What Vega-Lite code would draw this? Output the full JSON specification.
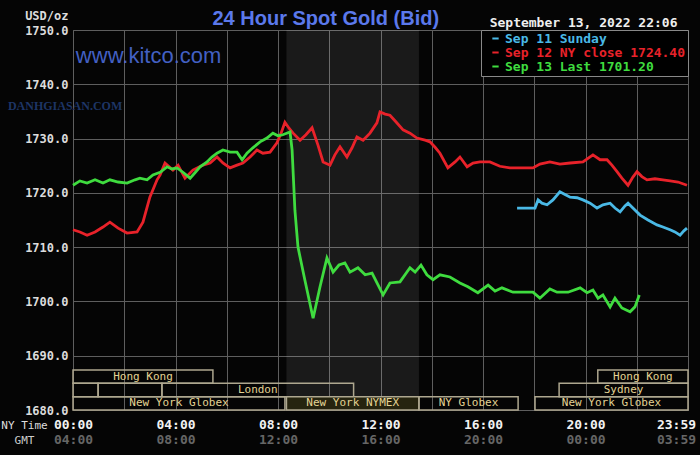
{
  "$schema": "https://vega.github.io/schema/vega-lite/v6.json",
  "width": 615,
  "height": 380,
  "autosize": {"type": "none"},
  "padding": {"left": 73, "top": 30, "right": 12, "bottom": 45},
  "background": "#050505",
  "config": {
    "view": {"stroke": "#5a5a5a"},
    "axis": {"ticks": false, "domain": false, "gridColor": "#5e5e5e", "gridWidth": 1, "gridOpacity": 1, "labelFlush": false}
  },
  "datasets": {
    "sessions": [
      {"lane": "A", "session": "Hong Kong", "start": 0, "end": 5.46},
      {"lane": "A", "session": "Hong Kong", "start": 20.48, "end": 24},
      {"lane": "B", "session": "", "start": 0, "end": 0.98},
      {"lane": "B", "session": "", "start": 0.98, "end": 3.47},
      {"lane": "B", "session": "London", "start": 3.47, "end": 10.95},
      {"lane": "B", "session": "Sydney", "start": 18.97, "end": 24},
      {"lane": "C", "session": "New York Globex", "start": 0, "end": 8.27},
      {"lane": "C", "session": "New York NYMEX", "start": 8.33, "end": 13.5},
      {"lane": "C", "session": "NY Globex", "start": 13.5, "end": 17.37},
      {"lane": "C", "session": "New York Globex", "start": 18.03, "end": 24}
    ],
    "prices": [
      {"s": "Sep 12 NY close 1724.40", "h": 0.00, "v": 1713.2},
      {"s": "Sep 12 NY close 1724.40", "h": 0.27, "v": 1712.8},
      {"s": "Sep 12 NY close 1724.40", "h": 0.55, "v": 1712.2},
      {"s": "Sep 12 NY close 1724.40", "h": 0.86, "v": 1712.8},
      {"s": "Sep 12 NY close 1724.40", "h": 1.17, "v": 1713.7},
      {"s": "Sep 12 NY close 1724.40", "h": 1.44, "v": 1714.6},
      {"s": "Sep 12 NY close 1724.40", "h": 1.76, "v": 1713.5},
      {"s": "Sep 12 NY close 1724.40", "h": 2.11, "v": 1712.6},
      {"s": "Sep 12 NY close 1724.40", "h": 2.50, "v": 1712.8},
      {"s": "Sep 12 NY close 1724.40", "h": 2.73, "v": 1714.6},
      {"s": "Sep 12 NY close 1724.40", "h": 3.00, "v": 1719.2},
      {"s": "Sep 12 NY close 1724.40", "h": 3.28, "v": 1722.4},
      {"s": "Sep 12 NY close 1724.40", "h": 3.40, "v": 1723.3},
      {"s": "Sep 12 NY close 1724.40", "h": 3.59, "v": 1725.5},
      {"s": "Sep 12 NY close 1724.40", "h": 3.90, "v": 1724.2},
      {"s": "Sep 12 NY close 1724.40", "h": 4.10, "v": 1725.1},
      {"s": "Sep 12 NY close 1724.40", "h": 4.37, "v": 1722.7},
      {"s": "Sep 12 NY close 1724.40", "h": 4.68, "v": 1724.2},
      {"s": "Sep 12 NY close 1724.40", "h": 5.07, "v": 1725.1},
      {"s": "Sep 12 NY close 1724.40", "h": 5.35, "v": 1725.5},
      {"s": "Sep 12 NY close 1724.40", "h": 5.62, "v": 1726.6},
      {"s": "Sep 12 NY close 1724.40", "h": 5.85, "v": 1725.5},
      {"s": "Sep 12 NY close 1724.40", "h": 6.13, "v": 1724.6},
      {"s": "Sep 12 NY close 1724.40", "h": 6.40, "v": 1725.1},
      {"s": "Sep 12 NY close 1724.40", "h": 6.63, "v": 1725.5},
      {"s": "Sep 12 NY close 1724.40", "h": 6.91, "v": 1726.6},
      {"s": "Sep 12 NY close 1724.40", "h": 7.18, "v": 1727.9},
      {"s": "Sep 12 NY close 1724.40", "h": 7.41, "v": 1727.3},
      {"s": "Sep 12 NY close 1724.40", "h": 7.69, "v": 1727.5},
      {"s": "Sep 12 NY close 1724.40", "h": 7.96, "v": 1729.2},
      {"s": "Sep 12 NY close 1724.40", "h": 8.12, "v": 1731.0},
      {"s": "Sep 12 NY close 1724.40", "h": 8.27, "v": 1733.0},
      {"s": "Sep 12 NY close 1724.40", "h": 8.43, "v": 1731.9},
      {"s": "Sep 12 NY close 1724.40", "h": 8.59, "v": 1731.0},
      {"s": "Sep 12 NY close 1724.40", "h": 8.86, "v": 1729.7},
      {"s": "Sep 12 NY close 1724.40", "h": 9.09, "v": 1730.7},
      {"s": "Sep 12 NY close 1724.40", "h": 9.33, "v": 1732.0},
      {"s": "Sep 12 NY close 1724.40", "h": 9.56, "v": 1728.8},
      {"s": "Sep 12 NY close 1724.40", "h": 9.76, "v": 1725.7},
      {"s": "Sep 12 NY close 1724.40", "h": 10.03, "v": 1725.1},
      {"s": "Sep 12 NY close 1724.40", "h": 10.22, "v": 1727.0},
      {"s": "Sep 12 NY close 1724.40", "h": 10.42, "v": 1728.5},
      {"s": "Sep 12 NY close 1724.40", "h": 10.69, "v": 1726.6},
      {"s": "Sep 12 NY close 1724.40", "h": 10.89, "v": 1728.3},
      {"s": "Sep 12 NY close 1724.40", "h": 11.08, "v": 1730.3},
      {"s": "Sep 12 NY close 1724.40", "h": 11.32, "v": 1729.7},
      {"s": "Sep 12 NY close 1724.40", "h": 11.59, "v": 1731.0},
      {"s": "Sep 12 NY close 1724.40", "h": 11.86, "v": 1732.9},
      {"s": "Sep 12 NY close 1724.40", "h": 11.98, "v": 1734.9},
      {"s": "Sep 12 NY close 1724.40", "h": 12.18, "v": 1734.5},
      {"s": "Sep 12 NY close 1724.40", "h": 12.37, "v": 1734.3},
      {"s": "Sep 12 NY close 1724.40", "h": 12.60, "v": 1733.1},
      {"s": "Sep 12 NY close 1724.40", "h": 12.88, "v": 1731.6},
      {"s": "Sep 12 NY close 1724.40", "h": 13.15, "v": 1731.0},
      {"s": "Sep 12 NY close 1724.40", "h": 13.42, "v": 1730.1},
      {"s": "Sep 12 NY close 1724.40", "h": 13.74, "v": 1729.7},
      {"s": "Sep 12 NY close 1724.40", "h": 13.93, "v": 1729.4},
      {"s": "Sep 12 NY close 1724.40", "h": 14.13, "v": 1728.4},
      {"s": "Sep 12 NY close 1724.40", "h": 14.32, "v": 1727.3},
      {"s": "Sep 12 NY close 1724.40", "h": 14.63, "v": 1724.6},
      {"s": "Sep 12 NY close 1724.40", "h": 14.91, "v": 1725.7},
      {"s": "Sep 12 NY close 1724.40", "h": 15.10, "v": 1726.6},
      {"s": "Sep 12 NY close 1724.40", "h": 15.38, "v": 1724.8},
      {"s": "Sep 12 NY close 1724.40", "h": 15.61, "v": 1725.5},
      {"s": "Sep 12 NY close 1724.40", "h": 15.88, "v": 1725.7},
      {"s": "Sep 12 NY close 1724.40", "h": 16.27, "v": 1725.7},
      {"s": "Sep 12 NY close 1724.40", "h": 16.66, "v": 1724.9},
      {"s": "Sep 12 NY close 1724.40", "h": 17.05, "v": 1724.6},
      {"s": "Sep 12 NY close 1724.40", "h": 17.95, "v": 1724.6},
      {"s": "Sep 12 NY close 1724.40", "h": 18.22, "v": 1725.3},
      {"s": "Sep 12 NY close 1724.40", "h": 18.61, "v": 1725.7},
      {"s": "Sep 12 NY close 1724.40", "h": 19.00, "v": 1725.3},
      {"s": "Sep 12 NY close 1724.40", "h": 19.40, "v": 1725.5},
      {"s": "Sep 12 NY close 1724.40", "h": 19.90, "v": 1725.7},
      {"s": "Sep 12 NY close 1724.40", "h": 20.29, "v": 1727.0},
      {"s": "Sep 12 NY close 1724.40", "h": 20.57, "v": 1726.1},
      {"s": "Sep 12 NY close 1724.40", "h": 20.84, "v": 1726.1},
      {"s": "Sep 12 NY close 1724.40", "h": 21.03, "v": 1725.1},
      {"s": "Sep 12 NY close 1724.40", "h": 21.23, "v": 1723.9},
      {"s": "Sep 12 NY close 1724.40", "h": 21.42, "v": 1722.7},
      {"s": "Sep 12 NY close 1724.40", "h": 21.66, "v": 1721.4},
      {"s": "Sep 12 NY close 1724.40", "h": 21.85, "v": 1722.9},
      {"s": "Sep 12 NY close 1724.40", "h": 22.01, "v": 1723.9},
      {"s": "Sep 12 NY close 1724.40", "h": 22.20, "v": 1723.0},
      {"s": "Sep 12 NY close 1724.40", "h": 22.40, "v": 1722.4},
      {"s": "Sep 12 NY close 1724.40", "h": 22.71, "v": 1722.6},
      {"s": "Sep 12 NY close 1724.40", "h": 23.02, "v": 1722.4},
      {"s": "Sep 12 NY close 1724.40", "h": 23.30, "v": 1722.2},
      {"s": "Sep 12 NY close 1724.40", "h": 23.61, "v": 1722.0},
      {"s": "Sep 12 NY close 1724.40", "h": 23.96, "v": 1721.4},
      {"s": "Sep 11 Sunday", "h": 17.33, "v": 1717.2},
      {"s": "Sep 11 Sunday", "h": 18.03, "v": 1717.2},
      {"s": "Sep 11 Sunday", "h": 18.15, "v": 1718.7},
      {"s": "Sep 11 Sunday", "h": 18.30, "v": 1718.1},
      {"s": "Sep 11 Sunday", "h": 18.50, "v": 1717.8},
      {"s": "Sep 11 Sunday", "h": 18.73, "v": 1718.7},
      {"s": "Sep 11 Sunday", "h": 19.00, "v": 1720.2},
      {"s": "Sep 11 Sunday", "h": 19.20, "v": 1719.7},
      {"s": "Sep 11 Sunday", "h": 19.40, "v": 1719.2},
      {"s": "Sep 11 Sunday", "h": 19.67, "v": 1719.1},
      {"s": "Sep 11 Sunday", "h": 19.90, "v": 1718.7},
      {"s": "Sep 11 Sunday", "h": 20.18, "v": 1718.1},
      {"s": "Sep 11 Sunday", "h": 20.45, "v": 1717.2},
      {"s": "Sep 11 Sunday", "h": 20.68, "v": 1717.8},
      {"s": "Sep 11 Sunday", "h": 20.96, "v": 1718.1},
      {"s": "Sep 11 Sunday", "h": 21.15, "v": 1717.2},
      {"s": "Sep 11 Sunday", "h": 21.35, "v": 1716.5},
      {"s": "Sep 11 Sunday", "h": 21.54, "v": 1717.6},
      {"s": "Sep 11 Sunday", "h": 21.66, "v": 1718.1},
      {"s": "Sep 11 Sunday", "h": 21.85, "v": 1717.2},
      {"s": "Sep 11 Sunday", "h": 22.13, "v": 1715.9},
      {"s": "Sep 11 Sunday", "h": 22.44, "v": 1715.0},
      {"s": "Sep 11 Sunday", "h": 22.79, "v": 1714.1},
      {"s": "Sep 11 Sunday", "h": 23.02, "v": 1713.7},
      {"s": "Sep 11 Sunday", "h": 23.30, "v": 1713.2},
      {"s": "Sep 11 Sunday", "h": 23.49, "v": 1712.8},
      {"s": "Sep 11 Sunday", "h": 23.69, "v": 1712.2},
      {"s": "Sep 11 Sunday", "h": 23.84, "v": 1713.0},
      {"s": "Sep 11 Sunday", "h": 23.96, "v": 1713.5},
      {"s": "Sep 13 Last 1701.20", "h": 0.00, "v": 1721.4},
      {"s": "Sep 13 Last 1701.20", "h": 0.27, "v": 1722.2},
      {"s": "Sep 13 Last 1701.20", "h": 0.55, "v": 1721.8},
      {"s": "Sep 13 Last 1701.20", "h": 0.86, "v": 1722.4},
      {"s": "Sep 13 Last 1701.20", "h": 1.17, "v": 1721.8},
      {"s": "Sep 13 Last 1701.20", "h": 1.44, "v": 1722.4},
      {"s": "Sep 13 Last 1701.20", "h": 1.76, "v": 1722.0},
      {"s": "Sep 13 Last 1701.20", "h": 2.11, "v": 1721.8},
      {"s": "Sep 13 Last 1701.20", "h": 2.42, "v": 1722.4},
      {"s": "Sep 13 Last 1701.20", "h": 2.61, "v": 1722.7},
      {"s": "Sep 13 Last 1701.20", "h": 2.89, "v": 1722.4},
      {"s": "Sep 13 Last 1701.20", "h": 3.12, "v": 1723.3},
      {"s": "Sep 13 Last 1701.20", "h": 3.40, "v": 1723.8},
      {"s": "Sep 13 Last 1701.20", "h": 3.67, "v": 1724.8},
      {"s": "Sep 13 Last 1701.20", "h": 3.86, "v": 1724.4},
      {"s": "Sep 13 Last 1701.20", "h": 4.06, "v": 1724.6},
      {"s": "Sep 13 Last 1701.20", "h": 4.29, "v": 1723.8},
      {"s": "Sep 13 Last 1701.20", "h": 4.57, "v": 1722.7},
      {"s": "Sep 13 Last 1701.20", "h": 4.76, "v": 1723.7},
      {"s": "Sep 13 Last 1701.20", "h": 4.96, "v": 1724.8},
      {"s": "Sep 13 Last 1701.20", "h": 5.23, "v": 1725.7},
      {"s": "Sep 13 Last 1701.20", "h": 5.42, "v": 1726.6},
      {"s": "Sep 13 Last 1701.20", "h": 5.62, "v": 1727.3},
      {"s": "Sep 13 Last 1701.20", "h": 5.85, "v": 1727.9},
      {"s": "Sep 13 Last 1701.20", "h": 6.13, "v": 1727.5},
      {"s": "Sep 13 Last 1701.20", "h": 6.40, "v": 1727.5},
      {"s": "Sep 13 Last 1701.20", "h": 6.60, "v": 1726.1},
      {"s": "Sep 13 Last 1701.20", "h": 6.79, "v": 1727.3},
      {"s": "Sep 13 Last 1701.20", "h": 7.02, "v": 1728.3},
      {"s": "Sep 13 Last 1701.20", "h": 7.30, "v": 1729.4},
      {"s": "Sep 13 Last 1701.20", "h": 7.57, "v": 1730.1},
      {"s": "Sep 13 Last 1701.20", "h": 7.80, "v": 1731.0},
      {"s": "Sep 13 Last 1701.20", "h": 8.00, "v": 1730.5},
      {"s": "Sep 13 Last 1701.20", "h": 8.19, "v": 1730.7},
      {"s": "Sep 13 Last 1701.20", "h": 8.47, "v": 1731.2},
      {"s": "Sep 13 Last 1701.20", "h": 8.55, "v": 1727.9},
      {"s": "Sep 13 Last 1701.20", "h": 8.66, "v": 1716.8},
      {"s": "Sep 13 Last 1701.20", "h": 8.78, "v": 1710.0},
      {"s": "Sep 13 Last 1701.20", "h": 9.05, "v": 1703.9},
      {"s": "Sep 13 Last 1701.20", "h": 9.37, "v": 1696.9},
      {"s": "Sep 13 Last 1701.20", "h": 9.64, "v": 1702.7},
      {"s": "Sep 13 Last 1701.20", "h": 9.91, "v": 1708.0},
      {"s": "Sep 13 Last 1701.20", "h": 10.15, "v": 1705.4},
      {"s": "Sep 13 Last 1701.20", "h": 10.38, "v": 1706.7},
      {"s": "Sep 13 Last 1701.20", "h": 10.61, "v": 1707.1},
      {"s": "Sep 13 Last 1701.20", "h": 10.81, "v": 1705.4},
      {"s": "Sep 13 Last 1701.20", "h": 11.12, "v": 1706.2},
      {"s": "Sep 13 Last 1701.20", "h": 11.40, "v": 1704.9},
      {"s": "Sep 13 Last 1701.20", "h": 11.67, "v": 1705.2},
      {"s": "Sep 13 Last 1701.20", "h": 12.10, "v": 1701.2},
      {"s": "Sep 13 Last 1701.20", "h": 12.37, "v": 1703.4},
      {"s": "Sep 13 Last 1701.20", "h": 12.76, "v": 1703.6},
      {"s": "Sep 13 Last 1701.20", "h": 13.15, "v": 1706.2},
      {"s": "Sep 13 Last 1701.20", "h": 13.35, "v": 1705.4},
      {"s": "Sep 13 Last 1701.20", "h": 13.58, "v": 1706.7},
      {"s": "Sep 13 Last 1701.20", "h": 13.81, "v": 1704.9},
      {"s": "Sep 13 Last 1701.20", "h": 14.05, "v": 1704.0},
      {"s": "Sep 13 Last 1701.20", "h": 14.32, "v": 1704.9},
      {"s": "Sep 13 Last 1701.20", "h": 14.71, "v": 1704.5},
      {"s": "Sep 13 Last 1701.20", "h": 15.10, "v": 1703.4},
      {"s": "Sep 13 Last 1701.20", "h": 15.41, "v": 1702.7},
      {"s": "Sep 13 Last 1701.20", "h": 15.80, "v": 1701.6},
      {"s": "Sep 13 Last 1701.20", "h": 16.20, "v": 1703.0},
      {"s": "Sep 13 Last 1701.20", "h": 16.47, "v": 1701.9},
      {"s": "Sep 13 Last 1701.20", "h": 16.74, "v": 1702.5},
      {"s": "Sep 13 Last 1701.20", "h": 17.17, "v": 1701.7},
      {"s": "Sep 13 Last 1701.20", "h": 17.95, "v": 1701.7},
      {"s": "Sep 13 Last 1701.20", "h": 18.22, "v": 1700.6},
      {"s": "Sep 13 Last 1701.20", "h": 18.61, "v": 1702.3},
      {"s": "Sep 13 Last 1701.20", "h": 18.89, "v": 1701.7},
      {"s": "Sep 13 Last 1701.20", "h": 19.32, "v": 1701.7},
      {"s": "Sep 13 Last 1701.20", "h": 19.79, "v": 1702.5},
      {"s": "Sep 13 Last 1701.20", "h": 20.06, "v": 1701.6},
      {"s": "Sep 13 Last 1701.20", "h": 20.29, "v": 1702.1},
      {"s": "Sep 13 Last 1701.20", "h": 20.49, "v": 1700.6},
      {"s": "Sep 13 Last 1701.20", "h": 20.68, "v": 1701.2},
      {"s": "Sep 13 Last 1701.20", "h": 20.96, "v": 1699.0},
      {"s": "Sep 13 Last 1701.20", "h": 21.15, "v": 1700.6},
      {"s": "Sep 13 Last 1701.20", "h": 21.42, "v": 1698.8},
      {"s": "Sep 13 Last 1701.20", "h": 21.74, "v": 1698.1},
      {"s": "Sep 13 Last 1701.20", "h": 21.93, "v": 1699.0},
      {"s": "Sep 13 Last 1701.20", "h": 22.10, "v": 1701.2}
    ]
  },
  "layer": [
    {
      "data": {"values": [{"session": "New York NYMEX", "start": 8.33, "end": 13.5}]},
      "mark": {"type": "rect", "color": "#ffffff", "opacity": 0.085},
      "encoding": {
        "x": {
          "field": "start", "type": "quantitative",
          "scale": {"domain": [0, 24], "nice": false, "zero": false},
          "axis": {
            "orient": "bottom",
            "values": [0, 2, 4, 6, 8, 10, 12, 14, 16, 18, 20, 22, 24],
            "grid": true,
            "labelExpr": "datum.value % 4 != 0 ? '' : (datum.value == 24 ? '23:59' : (datum.value < 10 ? '0' : '') + datum.value + ':00')",
            "labelFont": "DejaVu Sans Mono", "labelFontSize": 13, "labelFontWeight": "bold",
            "labelColor": "#f2f2f2", "labelPadding": 8,
            "labelOffset": {"condition": {"test": "datum.value == 24", "value": -12}, "value": 0},
            "title": "NY Time", "titleX": -49, "titleY": 15, "titleAlign": "center", "titleBaseline": "middle",
            "titleFont": "DejaVu Sans Mono", "titleFontSize": 11, "titleFontWeight": "normal", "titleColor": "#dddddd"
          }
        },
        "x2": {"field": "end"}
      }
    },
    {
      "data": {"name": "sessions"},
      "mark": {"type": "rect", "stroke": "#aea78f", "strokeWidth": 1.5},
      "encoding": {
        "x": {
          "field": "start", "type": "quantitative",
          "axis": {
            "orient": "bottom", "offset": 15,
            "values": [0, 4, 8, 12, 16, 20, 24],
            "grid": false,
            "labelExpr": "datum.value == 24 ? '03:59' : (((datum.value + 4) % 24) < 10 ? '0' : '') + ((datum.value + 4) % 24) + ':00'",
            "labelFont": "DejaVu Sans Mono", "labelFontSize": 13, "labelFontWeight": "bold",
            "labelColor": "#666666", "labelPadding": 8,
            "labelOffset": {"condition": {"test": "datum.value == 24", "value": -12}, "value": 0},
            "title": "GMT", "titleX": -49, "titleY": 15, "titleAlign": "center", "titleBaseline": "middle",
            "titleFont": "DejaVu Sans Mono", "titleFontSize": 11, "titleFontWeight": "normal", "titleColor": "#cccccc"
          }
        },
        "x2": {"field": "end"},
        "y": {
          "field": "lane", "type": "ordinal",
          "scale": {"domain": ["A", "B", "C"], "range": [340, 380], "paddingInner": 0, "paddingOuter": 0},
          "axis": null
        },
        "fill": {"condition": {"test": "datum.session === 'New York NYMEX'", "value": "#26240f"}, "value": "transparent"}
      }
    },
    {
      "data": {"name": "sessions"},
      "transform": [{"calculate": "(datum.start + datum.end) / 2", "as": "mid"}],
      "mark": {"type": "text", "font": "DejaVu Sans Mono", "fontSize": 11, "color": "#e3d394", "baseline": "middle"},
      "encoding": {
        "x": {"field": "mid", "type": "quantitative", "axis": null},
        "y": {
          "field": "lane", "type": "ordinal",
          "scale": {"domain": ["A", "B", "C"], "range": [340, 380], "paddingInner": 0, "paddingOuter": 0},
          "axis": null
        },
        "text": {"field": "session"}
      }
    },
    {
      "data": {"values": [{"mark": "www.kitco.com"}]},
      "mark": {"type": "text", "font": "Liberation Sans", "fontSize": 22, "color": "#4a6ad8", "opacity": 0.9, "align": "center", "baseline": "middle"},
      "encoding": {
        "x": {
          "datum": 2.95, "type": "quantitative",
          "axis": {
            "orient": "top", "labels": false, "grid": false,
            "title": "24 Hour Spot Gold (Bid)", "titleX": 139, "titleY": -6, "titleAlign": "left", "titleBaseline": "alphabetic",
            "titleFont": "Liberation Sans", "titleFontSize": 20, "titleFontWeight": "bold", "titleColor": "#5b79ec"
          }
        },
        "y": {"datum": 1745.3, "type": "quantitative", "scale": {"domain": [1680, 1750], "nice": false, "zero": false}, "axis": null},
        "text": {"field": "mark"}
      }
    },
    {
      "data": {"values": [{"mark": "DANHGIASAN.COM"}]},
      "mark": {"type": "text", "font": "Liberation Serif", "fontSize": 12, "fontWeight": "bold", "color": "#1e3566", "align": "center", "baseline": "middle"},
      "encoding": {
        "x": {"datum": -0.31, "type": "quantitative", "axis": null},
        "y": {"datum": 1736.0, "type": "quantitative", "scale": {"domain": [1680, 1750], "nice": false, "zero": false}, "axis": null},
        "text": {"field": "mark"}
      }
    },
    {
      "data": {"name": "prices"},
      "mark": {"type": "line", "strokeWidth": 2.8, "interpolate": "linear"},
      "encoding": {
        "x": {
          "field": "h", "type": "quantitative",
          "axis": {
            "orient": "top", "labels": false, "grid": false,
            "title": "September 13, 2022 22:06", "titleX": 604, "titleY": -8, "titleAlign": "right", "titleBaseline": "middle",
            "titleFont": "DejaVu Sans Mono", "titleFontSize": 13, "titleFontWeight": "bold", "titleColor": "#efefef"
          }
        },
        "y": {
          "field": "v", "type": "quantitative",
          "scale": {"domain": [1680, 1750], "nice": false, "zero": false},
          "axis": {
            "orient": "left", "values": [1680, 1690, 1700, 1710, 1720, 1730, 1740, 1750],
            "format": ".1f", "grid": true,
            "labelFont": "DejaVu Sans Mono", "labelFontSize": 12, "labelFontWeight": "bold",
            "labelColor": "#dcdcdc", "labelPadding": 5,
            "title": "USD/oz", "titleAngle": 0, "titleX": -5, "titleY": -15, "titleAlign": "right", "titleBaseline": "middle",
            "titleFont": "DejaVu Sans Mono", "titleFontSize": 12, "titleFontWeight": "bold", "titleColor": "#dcdcdc"
          }
        },
        "color": {
          "field": "s", "type": "nominal",
          "scale": {
            "domain": ["Sep 11 Sunday", "Sep 12 NY close 1724.40", "Sep 13 Last 1701.20"],
            "range": ["#4ab9e6", "#e8222a", "#3fdc3f"]
          },
          "legend": {
            "orient": "top-right", "offset": 0, "title": null,
            "fillColor": "#000000", "strokeColor": "#888888", "padding": 2, "cornerRadius": 0,
            "symbolType": "stroke", "symbolSize": 40, "symbolStrokeWidth": 2, "symbolOffset": 6,
            "labelFont": "DejaVu Sans Mono", "labelFontSize": 13, "labelFontWeight": "bold",
            "labelOffset": 3, "rowPadding": 0, "labelLimit": 300,
            "encode": {"labels": {"update": {"fill": {"scale": "color", "field": "value"}}}}
          }
        }
      }
    }
  ],
  "resolve": {"scale": {"y": "independent"}, "axis": {"x": "independent", "y": "independent"}}
}
